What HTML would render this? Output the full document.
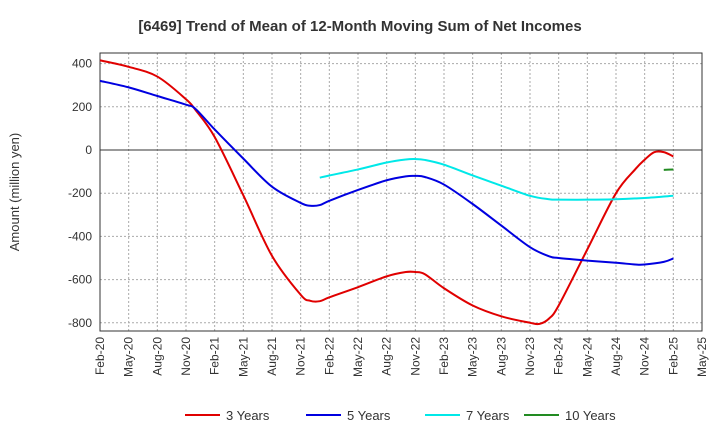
<!DOCTYPE html>
<html><head><meta charset="utf-8"><style>
body{margin:0;background:#fff;font-family:"Liberation Sans",sans-serif;}
svg text{font-family:"Liberation Sans",sans-serif;}
</style></head><body>
<svg id="chart" width="720" height="440" xmlns="http://www.w3.org/2000/svg">
<text x="360" y="31" text-anchor="middle" font-size="15" font-weight="bold" fill="#333">[6469]  Trend of Mean of 12-Month Moving Sum of Net Incomes</text>
<text transform="translate(19,192) rotate(-90)" text-anchor="middle" font-size="13" fill="#333">Amount (million yen)</text>
<g id="grid"></g><g id="axes"></g><g id="series"></g><g id="legend"></g>
</svg>
<script>
const xLabels=["Feb-20","May-20","Aug-20","Nov-20","Feb-21","May-21","Aug-21","Nov-21","Feb-22","May-22","Aug-22","Nov-22","Feb-23","May-23","Aug-23","Nov-23","Feb-24","May-24","Aug-24","Nov-24","Feb-25","May-25"];
const yTicks=[400,200,0,-200,-400,-600,-800];
const seriesNames=["3 Years","5 Years","7 Years","10 Years"];
const seriesColors=["#e00000","#0000e0","#00e8e8","#228b22"];
const months3=[0,3,6,9,10,12,15,18,21,22,23,24,27,30,32,33,34,36,39,42,45,46,47,48,51,54,56,57,58,59,60];
const vals3=[415,385,340,235,185,60,-210,-490,-670,-698,-700,-682,-635,-585,-565,-565,-575,-640,-720,-770,-800,-805,-780,-720,-460,-200,-90,-45,-10,-10,-30];
const months5=[0,3,6,9,10,12,15,18,21,22,23,24,27,30,32,33,34,36,39,42,45,47,48,51,54,56,57,59,60];
const vals5=[320,290,250,210,190,95,-40,-170,-245,-258,-255,-235,-185,-140,-122,-120,-125,-160,-250,-350,-450,-492,-500,-512,-522,-530,-530,-518,-502];
const months7=[23,24,27,30,32,33,34,36,39,42,45,47,48,51,54,57,60];
const vals7=[-128,-118,-90,-58,-44,-42,-46,-68,-118,-165,-212,-228,-230,-230,-228,-222,-212];
const months10=[59,60];
const vals10=[-92,-90];
const X0=100,X1=702,Y0=53,Y1=331;
const xs=m=>X0+m*(X1-X0)/63;
const ys=v=>150-v*43.2/200;
const NS="http://www.w3.org/2000/svg";
function mk(p,t,a){const e=document.createElementNS(NS,t);for(const k in a)e.setAttribute(k,a[k]);p.appendChild(e);return e;}
const grid=document.getElementById('grid'),axes=document.getElementById('axes');
const frame=mk(axes,'rect',{x:X0,y:Y0,width:X1-X0,height:Y1-Y0,fill:'none',stroke:'#333','stroke-width':1});


xLabels.forEach((l,i)=>{const x=xs(i*3);
 const g=mk(grid,'line',{x1:x,x2:x,y1:Y0,y2:Y1,stroke:'#aaa','stroke-dasharray':'2,2'});
 
 
 const t=mk(axes,'text',{transform:`translate(${x+4},${Y1+6}) rotate(-90)`,'text-anchor':'end','font-size':12,fill:'#333'});
 t.textContent=l;
 
 });
yTicks.forEach(v=>{const y=ys(v);
 const g=mk(grid,'line',{x1:X0,x2:X1,y1:y,y2:y,stroke:v===0?'#333':'#aaa','stroke-dasharray':v===0?'':'2,2'});
 
 
 const t=mk(axes,'text',{x:X0-8,y:y+4,'text-anchor':'end','font-size':12,fill:'#333'});
 t.textContent=v;
 
 });
const ser=document.getElementById('series');
[[months3,vals3],[months5,vals5],[months7,vals7],[months10,vals10]].forEach(([m,v],i)=>{
 const pts=m.map((mm,j)=>[xs(mm),ys(v[j])]);
 let d='M'+pts[0].join(',');
 for(let j=1;j<pts.length;j++){const p0=pts[j-2]||pts[j-1],p1=pts[j-1],p2=pts[j],p3=pts[j+1]||p2;
  const c1=[p1[0]+(p2[0]-p0[0])/6,p1[1]+(p2[1]-p0[1])/6],c2=[p2[0]-(p3[0]-p1[0])/6,p2[1]-(p3[1]-p1[1])/6];
  d+=`C${c1} ${c2} ${p2}`;}
 const p=mk(ser,'path',{d,fill:'none',stroke:seriesColors[i],'stroke-width':2});
 
 });
const leg=document.getElementById('legend');
const lx=[185,306,425,524];
seriesNames.forEach((n,i)=>{
 const l=mk(leg,'line',{x1:lx[i],x2:lx[i]+35,y1:415,y2:415,stroke:seriesColors[i],'stroke-width':2});
 
 
 const t=mk(leg,'text',{x:lx[i]+41,y:420,'font-size':13,fill:'#333'});
 t.textContent=n;
 
 });
</script>
</body></html>
